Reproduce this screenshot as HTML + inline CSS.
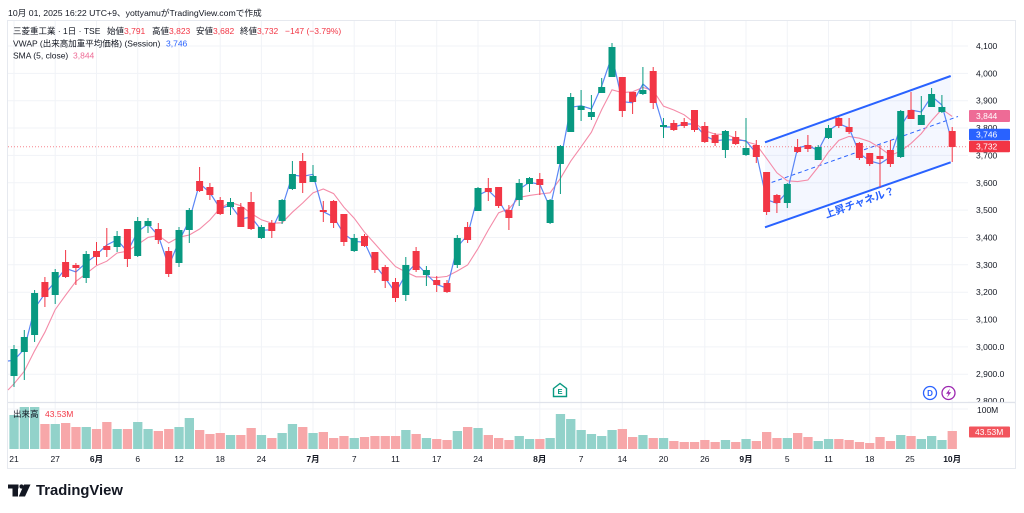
<!DOCTYPE html>
<html><head><meta charset="utf-8"><style>
html,body{margin:0;padding:0;background:#fff;}
svg{display:block;font-family:"Liberation Sans","Noto Sans CJK JP",sans-serif;}
text{white-space:pre;}
</style></head><body>
<svg width="1024" height="513" viewBox="0 0 1024 513" xmlns="http://www.w3.org/2000/svg">
<rect width="1024" height="513" fill="#fff"/>
<!-- frame -->
<rect x="7.5" y="20.5" width="1008" height="448" fill="none" stroke="#e6e9ef" stroke-width="1"/>
<!-- horizontal grid -->
<g stroke="#f1f3f7" stroke-width="1">
<path d="M8 46H968M8 73.4H968M8 100.7H968M8 128H968M8 155.4H968M8 182.8H968M8 210.1H968M8 237.5H968M8 264.8H968M8 292.2H968M8 319.5H968M8 346.9H968M8 374.2H968"/>
<path d="M8 409H968"/>
</g>
<!-- vertical grid -->
<g stroke="#f1f3f7" stroke-width="1">
<path d="M14 21V449M55.2 21V449M96.5 21V449M137.7 21V449M179 21V449M220.2 21V449M261.4 21V449M313 21V449M354.2 21V449M395.5 21V449M436.7 21V449M478 21V449M539.8 21V449M581.1 21V449M622.3 21V449M663.5 21V449M704.8 21V449M746 21V449M787.3 21V449M828.5 21V449M869.7 21V449M911 21V449M952.2 21V449"/>
</g>
<!-- pane separator -->
<path d="M8 402.5H1015" stroke="#e0e3eb" stroke-width="1.2"/>

<!-- channel -->
<polygon points="765,142.3 950.7,76 950.7,162.3 765,227.3" fill="#2962ff" fill-opacity="0.05"/>
<path d="M765 142.3L950.7 76M765 227.3L950.7 162.3" stroke="#2962ff" stroke-width="2" fill="none"/>
<path d="M765 184.8L958 116.5" stroke="#2962ff" stroke-width="1" stroke-dasharray="4,3" fill="none"/>
<text x="860" y="203" font-size="10.5" font-weight="bold" fill="#2962ff" text-anchor="middle" dominant-baseline="central" transform="rotate(-19.5 860 203)">上昇チャネル？</text>

<!-- last price dotted line -->
<path d="M8 146.7H968" stroke="#f23645" stroke-width="1" stroke-dasharray="1,2" opacity="0.6"/>

<!-- SMA -->
<polyline fill="none" stroke="#f48ba8" stroke-width="1.1" points="8,390 14,383.8 24.3,371.2 34.6,350.8 44.9,332.2 55.2,309.6 65.6,295.2 75.9,281.4 86.2,273.6 96.5,265.6 106.8,261.2 117.1,253 127.4,251.2 137.7,244.6 148,237.4 158.3,235.4 168.7,243 179,237.2 189.3,235 199.6,229 209.9,220 220.2,208 230.5,202.4 240.8,205.8 251.1,213.4 261.4,219.8 271.8,223.2 282.1,222.8 292.4,212.2 302.7,203 313,192.8 323.3,189 333.6,193.6 343.9,207.2 354.2,218.2 364.5,232.2 374.9,243.8 385.2,255.4 395.5,266.6 405.8,272 416.1,276.8 426.4,276.8 436.7,277.6 447,276.4 457.3,271 467.6,265 478,248.6 488.3,230 498.6,212.8 508.9,208.8 519.2,197.4 529.5,195.4 539.8,194 550.1,192.8 560.4,178.4 570.7,161.2 581.1,146.8 591.4,132.2 601.7,109.6 612,89.8 622.3,92.6 632.6,91.8 642.9,87.4 653.2,90.6 663.5,106.2 673.8,110 684.2,114.8 694.5,122.8 704.8,130.6 715.1,134.2 725.4,134.4 735.7,138 746,141.6 756.3,144.6 766.6,158.4 776.9,172.8 787.3,180.8 797.6,181.6 807.9,180 818.2,167 828.5,152 838.8,140.4 849.1,136.4 859.4,138.2 869.7,141.6 880,147.8 890.4,155.4 900.7,151.2 911,143.4 921.3,133.6 931.6,120.6 941.9,109.2 952.2,116.4"/>

<!-- VWAP -->
<polyline fill="none" stroke="#5b86f5" stroke-width="1.2" points="8,361 14,360.3 24.3,349 34.6,308.3 44.9,293.7 55.2,281.7 65.6,268.3 75.9,272 86.2,262.7 96.5,254.7 106.8,245 117.1,239.7 127.4,251.7 137.7,231.7 148,224 158.3,235.7 168.7,266 179,241.3 189.3,220.3 199.6,183.3 209.9,192.7 220.2,208.7 230.5,205 240.8,219 251.1,217 261.4,230.3 271.8,229.7 282.1,207.7 292.4,175 302.7,176.3 313,174.3 323.3,211.7 333.6,217 343.9,234 354.2,241.3 364.5,242.3 374.9,265 385.2,278 395.5,292.7 405.8,274.3 416.1,263 426.4,274 436.7,284.3 447,288.3 457.3,247 467.6,235 478,195.3 488.3,190.3 498.6,200.3 508.9,217.7 519.2,189.3 529.5,182.3 539.8,184.3 550.1,207.7 560.4,161.7 570.7,107.3 581.1,105.7 591.4,109 601.7,86 612,55.7 622.3,101.7 632.6,102.7 642.9,84 653.2,93 663.5,127 673.8,127 684.2,124 694.5,124 704.8,135.7 715.1,140.7 725.4,139.7 735.7,140 746,140.7 756.3,153.3 766.6,199.7 776.9,203.3 787.3,191.7 797.6,148 807.9,145.3 818.2,150.7 828.5,130.7 838.8,123.7 849.1,128 859.4,153.3 869.7,161 880,163.7 890.4,157 900.7,126.3 911,110 921.3,112 931.6,96.3 941.9,105 952.2,143"/>

<!-- green candles -->
<g fill="#089981" stroke="none">
<path stroke="#089981" stroke-width="1" d="M14 345V387M24.3 330V380M34.6 290V342M55.2 269V304M86.2 251V283M117.1 231V252M137.7 217V257M148 218V233M179 227V267M189.3 208V243M230.5 198V215M261.4 225V239M282.1 199V224M292.4 161V190M313 165V182M354.2 234V252M405.8 257V301M426.4 266V286M457.3 235V268M478 187V211M519.2 179V206M529.5 177V192M550.1 199V224M560.4 145V194M570.7 93V132M581.1 90V121M591.4 95V120M601.7 78V93M612 43V77M642.9 67V95M663.5 118V138M725.4 130V158M746 118V156M787.3 183V208M818.2 145V160M828.5 125V139M900.7 110V158M921.3 96V125M931.6 88V107M941.9 95V113"/>
<rect x="10.5" y="349" width="7" height="27"/>
<rect x="20.8" y="337" width="7" height="15"/>
<rect x="31.1" y="293" width="7" height="42"/>
<rect x="51.7" y="272" width="7" height="23"/>
<rect x="82.7" y="254" width="7" height="24"/>
<rect x="113.6" y="236" width="7" height="11"/>
<rect x="134.2" y="221" width="7" height="35"/>
<rect x="144.5" y="221" width="7" height="5"/>
<rect x="175.5" y="230" width="7" height="33"/>
<rect x="185.8" y="210" width="7" height="20"/>
<rect x="227" y="202" width="7" height="5"/>
<rect x="257.9" y="227" width="7" height="11"/>
<rect x="278.6" y="200" width="7" height="21"/>
<rect x="288.9" y="174" width="7" height="15"/>
<rect x="309.5" y="176" width="7" height="6"/>
<rect x="350.7" y="238" width="7" height="13"/>
<rect x="402.3" y="265" width="7" height="30"/>
<rect x="422.9" y="270" width="7" height="5"/>
<rect x="453.8" y="238" width="7" height="27"/>
<rect x="474.5" y="188" width="7" height="23"/>
<rect x="515.7" y="183" width="7" height="17"/>
<rect x="526" y="178" width="7" height="6"/>
<rect x="546.6" y="200" width="7" height="23"/>
<rect x="556.9" y="146" width="7" height="18"/>
<rect x="567.2" y="97" width="7" height="35"/>
<rect x="577.6" y="106" width="7" height="4"/>
<rect x="587.9" y="112" width="7" height="5"/>
<rect x="598.2" y="87" width="7" height="6"/>
<rect x="608.5" y="47" width="7" height="30"/>
<rect x="639.4" y="90" width="7" height="4"/>
<rect x="660" y="125" width="7" height="2"/>
<rect x="721.9" y="131" width="7" height="19"/>
<rect x="742.5" y="148" width="7" height="7"/>
<rect x="783.8" y="184" width="7" height="19"/>
<rect x="814.7" y="147" width="7" height="13"/>
<rect x="825" y="128" width="7" height="10"/>
<rect x="897.2" y="111" width="7" height="46"/>
<rect x="917.8" y="115" width="7" height="10"/>
<rect x="928.1" y="94" width="7" height="13"/>
<rect x="938.4" y="107" width="7" height="5"/>
</g>

<!-- red candles -->
<g fill="#f23645" stroke="none">
<path stroke="#f23645" stroke-width="1" d="M44.9 277V307M65.6 250V278M75.9 263V285M96.5 242V265M106.8 228V257M127.4 229V267M158.3 223V244M168.7 247V277M199.6 167V192M209.9 183V200M220.2 197V215M240.8 203V227M251.1 192V230M271.8 220V238M302.7 153V193M323.3 201V222M333.6 200V228M343.9 214V246M364.5 234V247M374.9 252V273M385.2 265V288M395.5 278V302M416.1 247V272M436.7 276V292M447 280V293M467.6 222V243M488.3 178V201M498.6 187V208M508.9 205V230M539.8 173V195M622.3 77V117M632.6 92V114M653.2 67V109M673.8 120V131M684.2 118V128M694.5 110V132M704.8 122V143M715.1 133V146M735.7 131V145M756.3 140V163M766.6 172V215M776.9 194V213M797.6 139V153M807.9 135V152M838.8 117V128M849.1 118V134M859.4 142V160M869.7 153V166M880 145V187M890.4 140V167M911 92V119M952.2 127V162"/>
<rect x="41.4" y="282" width="7" height="15"/>
<rect x="62.1" y="262" width="7" height="15"/>
<rect x="72.4" y="265" width="7" height="3"/>
<rect x="93" y="251" width="7" height="6"/>
<rect x="103.3" y="246" width="7" height="4"/>
<rect x="123.9" y="229" width="7" height="30"/>
<rect x="154.8" y="229" width="7" height="11"/>
<rect x="165.2" y="251" width="7" height="23"/>
<rect x="196.1" y="181" width="7" height="10"/>
<rect x="206.4" y="187" width="7" height="8"/>
<rect x="216.7" y="200" width="7" height="14"/>
<rect x="237.3" y="207" width="7" height="20"/>
<rect x="247.6" y="202" width="7" height="27"/>
<rect x="268.3" y="223" width="7" height="8"/>
<rect x="299.2" y="161" width="7" height="22"/>
<rect x="319.8" y="210" width="7" height="2"/>
<rect x="330.1" y="201" width="7" height="22"/>
<rect x="340.4" y="214" width="7" height="28"/>
<rect x="361" y="236" width="7" height="10"/>
<rect x="371.4" y="252" width="7" height="18"/>
<rect x="381.7" y="267" width="7" height="14"/>
<rect x="392" y="282" width="7" height="16"/>
<rect x="412.6" y="251" width="7" height="19"/>
<rect x="433.2" y="280" width="7" height="5"/>
<rect x="443.5" y="283" width="7" height="9"/>
<rect x="464.1" y="227" width="7" height="13"/>
<rect x="484.8" y="188" width="7" height="4"/>
<rect x="495.1" y="187" width="7" height="19"/>
<rect x="505.4" y="210" width="7" height="8"/>
<rect x="536.3" y="179" width="7" height="6"/>
<rect x="618.8" y="77" width="7" height="34"/>
<rect x="629.1" y="92" width="7" height="10"/>
<rect x="649.7" y="71" width="7" height="32"/>
<rect x="670.3" y="123" width="7" height="7"/>
<rect x="680.7" y="122" width="7" height="4"/>
<rect x="691" y="110" width="7" height="20"/>
<rect x="701.3" y="126" width="7" height="16"/>
<rect x="711.6" y="135" width="7" height="8"/>
<rect x="732.2" y="137" width="7" height="7"/>
<rect x="752.8" y="145" width="7" height="12"/>
<rect x="763.1" y="172" width="7" height="40"/>
<rect x="773.4" y="195" width="7" height="8"/>
<rect x="794.1" y="147" width="7" height="5"/>
<rect x="804.4" y="145" width="7" height="4"/>
<rect x="835.3" y="118" width="7" height="8"/>
<rect x="845.6" y="127" width="7" height="5"/>
<rect x="855.9" y="143" width="7" height="15"/>
<rect x="866.2" y="153" width="7" height="11"/>
<rect x="876.5" y="156" width="7" height="3"/>
<rect x="886.9" y="150" width="7" height="14"/>
<rect x="907.5" y="110" width="7" height="9"/>
<rect x="948.7" y="131" width="7" height="16"/>
</g>

<!-- E icon -->
<polygon points="553.5,388.5 560,383.5 566.5,388.5 566.5,396.5 553.5,396.5" fill="#fff" stroke="#089981" stroke-width="1.4"/>
<text x="560" y="391.5" font-size="7.5" font-weight="bold" fill="#089981" text-anchor="middle" dominant-baseline="central">E</text>
<!-- D icon -->
<circle cx="930" cy="393" r="6.5" fill="#fff" stroke="#2962ff" stroke-width="1.3"/>
<text x="930" y="393.3" font-size="8" font-weight="bold" fill="#2962ff" text-anchor="middle" dominant-baseline="central">D</text>
<!-- lightning icon -->
<circle cx="948.5" cy="393" r="6.5" fill="#fff" stroke="#9c27b0" stroke-width="1.3"/>
<polygon points="950,388.5 946,393.8 948.5,393.8 947,397.5 951.2,392.2 948.7,392.2" fill="#9c27b0"/>

<!-- volume bars green -->
<g fill="#92d2ca">
<rect x="9.4" y="415" width="9.3" height="34"/>
<rect x="19.7" y="407" width="9.3" height="42"/>
<rect x="30" y="407" width="9.3" height="42"/>
<rect x="50.6" y="424" width="9.3" height="25"/>
<rect x="81.6" y="427" width="9.3" height="22"/>
<rect x="112.5" y="429" width="9.3" height="20"/>
<rect x="133.1" y="422" width="9.3" height="27"/>
<rect x="143.4" y="429" width="9.3" height="20"/>
<rect x="174.4" y="427" width="9.3" height="22"/>
<rect x="184.7" y="418" width="9.3" height="31"/>
<rect x="225.9" y="435" width="9.3" height="14"/>
<rect x="256.8" y="435" width="9.3" height="14"/>
<rect x="277.5" y="433" width="9.3" height="16"/>
<rect x="287.8" y="424" width="9.3" height="25"/>
<rect x="308.4" y="433" width="9.3" height="16"/>
<rect x="349.6" y="438" width="9.3" height="11"/>
<rect x="401.2" y="430" width="9.3" height="19"/>
<rect x="421.8" y="438" width="9.3" height="11"/>
<rect x="452.7" y="431" width="9.3" height="18"/>
<rect x="473.4" y="428" width="9.3" height="21"/>
<rect x="514.6" y="436" width="9.3" height="13"/>
<rect x="524.9" y="439" width="9.3" height="10"/>
<rect x="545.5" y="438" width="9.3" height="11"/>
<rect x="555.8" y="414" width="9.3" height="35"/>
<rect x="566.1" y="419" width="9.3" height="30"/>
<rect x="576.5" y="430" width="9.3" height="19"/>
<rect x="586.8" y="434" width="9.3" height="15"/>
<rect x="597.1" y="436" width="9.3" height="13"/>
<rect x="607.4" y="430" width="9.3" height="19"/>
<rect x="638.3" y="435" width="9.3" height="14"/>
<rect x="658.9" y="438" width="9.3" height="11"/>
<rect x="720.8" y="440" width="9.3" height="9"/>
<rect x="741.4" y="439" width="9.3" height="10"/>
<rect x="782.7" y="438" width="9.3" height="11"/>
<rect x="813.6" y="441" width="9.3" height="8"/>
<rect x="823.9" y="439" width="9.3" height="10"/>
<rect x="896.1" y="435" width="9.3" height="14"/>
<rect x="916.7" y="439" width="9.3" height="10"/>
<rect x="927" y="436" width="9.3" height="13"/>
<rect x="937.3" y="440" width="9.3" height="9"/>
</g>
<!-- volume bars red -->
<g fill="#f7a7a9">
<rect x="40.3" y="424" width="9.3" height="25"/>
<rect x="61" y="423" width="9.3" height="26"/>
<rect x="71.3" y="427" width="9.3" height="22"/>
<rect x="91.9" y="429" width="9.3" height="20"/>
<rect x="102.2" y="422" width="9.3" height="27"/>
<rect x="122.8" y="429" width="9.3" height="20"/>
<rect x="153.7" y="431" width="9.3" height="18"/>
<rect x="164.1" y="429" width="9.3" height="20"/>
<rect x="195" y="430" width="9.3" height="19"/>
<rect x="205.3" y="434" width="9.3" height="15"/>
<rect x="215.6" y="433" width="9.3" height="16"/>
<rect x="236.2" y="435" width="9.3" height="14"/>
<rect x="246.5" y="428" width="9.3" height="21"/>
<rect x="267.2" y="438" width="9.3" height="11"/>
<rect x="298.1" y="427" width="9.3" height="22"/>
<rect x="318.7" y="432" width="9.3" height="17"/>
<rect x="329" y="438" width="9.3" height="11"/>
<rect x="339.3" y="436" width="9.3" height="13"/>
<rect x="359.9" y="437" width="9.3" height="12"/>
<rect x="370.3" y="436" width="9.3" height="13"/>
<rect x="380.6" y="436" width="9.3" height="13"/>
<rect x="390.9" y="436" width="9.3" height="13"/>
<rect x="411.5" y="434" width="9.3" height="15"/>
<rect x="432.1" y="439" width="9.3" height="10"/>
<rect x="442.4" y="440" width="9.3" height="9"/>
<rect x="463" y="427" width="9.3" height="22"/>
<rect x="483.7" y="435" width="9.3" height="14"/>
<rect x="494" y="438" width="9.3" height="11"/>
<rect x="504.3" y="440" width="9.3" height="9"/>
<rect x="535.2" y="439" width="9.3" height="10"/>
<rect x="617.7" y="429" width="9.3" height="20"/>
<rect x="628" y="437" width="9.3" height="12"/>
<rect x="648.6" y="438" width="9.3" height="11"/>
<rect x="669.2" y="441" width="9.3" height="8"/>
<rect x="679.6" y="442" width="9.3" height="7"/>
<rect x="689.9" y="442" width="9.3" height="7"/>
<rect x="700.2" y="440" width="9.3" height="9"/>
<rect x="710.5" y="442" width="9.3" height="7"/>
<rect x="731.1" y="442" width="9.3" height="7"/>
<rect x="751.7" y="441" width="9.3" height="8"/>
<rect x="762" y="432" width="9.3" height="17"/>
<rect x="772.3" y="438" width="9.3" height="11"/>
<rect x="793" y="433" width="9.3" height="16"/>
<rect x="803.3" y="437" width="9.3" height="12"/>
<rect x="834.2" y="439" width="9.3" height="10"/>
<rect x="844.5" y="440" width="9.3" height="9"/>
<rect x="854.8" y="442" width="9.3" height="7"/>
<rect x="865.1" y="443" width="9.3" height="6"/>
<rect x="875.4" y="437" width="9.3" height="12"/>
<rect x="885.8" y="441" width="9.3" height="8"/>
<rect x="906.4" y="436" width="9.3" height="13"/>
<rect x="947.6" y="431" width="9.3" height="18"/>
</g>

<!-- volume legend -->
<text x="13" y="414" font-size="8.5" fill="#131722" dominant-baseline="central">出来高</text>
<text x="45" y="414" font-size="8.5" fill="#f23645" dominant-baseline="central">43.53M</text>

<!-- price axis labels -->
<g font-size="8.5" fill="#131722" dominant-baseline="central">
<text x="976" y="46">4,100</text>
<text x="976" y="73.4">4,000</text>
<text x="976" y="100.7">3,900</text>
<text x="976" y="128">3,800</text>
<text x="976" y="155.4">3,700</text>
<text x="976" y="182.8">3,600</text>
<text x="976" y="210.1">3,500</text>
<text x="976" y="237.5">3,400</text>
<text x="976" y="264.8">3,300</text>
<text x="976" y="292.2">3,200</text>
<text x="976" y="319.5">3,100</text>
<text x="976" y="346.9">3,000.0</text>
<text x="976" y="374.2">2,900.0</text>
<text x="976" y="401">2,800.0</text>
</g>
<rect x="968" y="402" width="46" height="46" fill="#fff"/>
<path d="M968 402.5H1015" stroke="#e0e3eb" stroke-width="1.2"/>
<text x="977" y="410" font-size="8.5" fill="#131722" dominant-baseline="central">100M</text>

<!-- price label boxes -->
<rect x="969" y="110" width="41" height="12" rx="1" fill="#ee6b96"/>
<text x="976" y="116.2" font-size="8.5" fill="#fff" dominant-baseline="central">3,844</text>
<rect x="969" y="128.7" width="41" height="11.5" rx="1" fill="#2962ff"/>
<text x="976" y="134.6" font-size="8.5" fill="#fff" dominant-baseline="central">3,746</text>
<rect x="969" y="140.8" width="41" height="11.5" rx="1" fill="#f23645"/>
<text x="976" y="146.7" font-size="8.5" fill="#fff" dominant-baseline="central">3,732</text>
<rect x="969" y="426.5" width="41" height="11" rx="1" fill="#f2545c"/>
<text x="975" y="432.1" font-size="8.5" fill="#fff" dominant-baseline="central">43.53M</text>

<!-- time axis -->
<g font-size="8.5" fill="#131722" text-anchor="middle" dominant-baseline="central">
<text x="14" y="459">21</text>
<text x="55.2" y="459">27</text>
<text x="96.5" y="459" font-weight="bold">6月</text>
<text x="137.7" y="459">6</text>
<text x="179" y="459">12</text>
<text x="220.2" y="459">18</text>
<text x="261.4" y="459">24</text>
<text x="313" y="459" font-weight="bold">7月</text>
<text x="354.2" y="459">7</text>
<text x="395.5" y="459">11</text>
<text x="436.7" y="459">17</text>
<text x="478" y="459">24</text>
<text x="539.8" y="459" font-weight="bold">8月</text>
<text x="581.1" y="459">7</text>
<text x="622.3" y="459">14</text>
<text x="663.5" y="459">20</text>
<text x="704.8" y="459">26</text>
<text x="746" y="459" font-weight="bold">9月</text>
<text x="787.3" y="459">5</text>
<text x="828.5" y="459">11</text>
<text x="869.7" y="459">18</text>
<text x="910" y="459">25</text>
<text x="952.2" y="459" font-weight="bold">10月</text>
</g>

<!-- header -->
<text x="8" y="13" font-size="8.7" fill="#131722" dominant-baseline="central">10月 01, 2025 16:22 UTC+9、yottyamuがTradingView.comで作成</text>
<g font-size="8.5" dominant-baseline="central">
<text x="13" y="31" fill="#131722">三菱重工業 · 1日 · TSE</text>
<text x="107" y="31" fill="#131722">始値</text><text x="124" y="31" fill="#f23645">3,791</text>
<text x="152" y="31" fill="#131722">高値</text><text x="169" y="31" fill="#f23645">3,823</text>
<text x="196" y="31" fill="#131722">安値</text><text x="213" y="31" fill="#f23645">3,682</text>
<text x="240" y="31" fill="#131722">終値</text><text x="257" y="31" fill="#f23645">3,732</text>
<text x="285" y="31" fill="#f23645">−147 (−3.79%)</text>
<text x="13" y="43.5" fill="#131722">VWAP (出来高加重平均価格) (Session)</text>
<text x="166" y="43.5" fill="#2962ff">3,746</text>
<text x="13" y="55.5" fill="#131722">SMA (5, close)</text>
<text x="73" y="55.5" fill="#ee6b96">3,844</text>
</g>

<!-- TradingView logo -->
<g fill="#131722">
<rect x="8" y="484.5" width="10.5" height="4"/>
<rect x="12.5" y="484.5" width="5.5" height="12"/>
<circle cx="21.5" cy="486.5" r="2.1"/>
<polygon points="24,484.5 30.5,484.5 25,496.5 18.8,496.5"/>
</g>
<text x="36" y="491" font-size="14.8" font-weight="bold" fill="#131722" dominant-baseline="central">TradingView</text>
</svg>
</body></html>
